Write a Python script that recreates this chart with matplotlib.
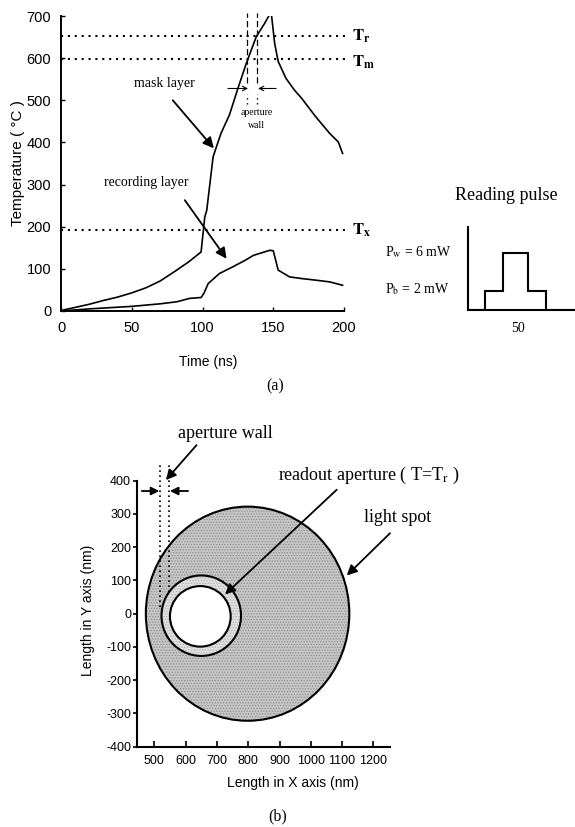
import matplotlib
matplotlib.use("Agg")
import matplotlib.pyplot as plt
from matplotlib.patches import Ellipse

plt.rcParams["font.family"] = ["Liberation Sans", "DejaVu Sans"]
plt.rcParams["mathtext.fontset"] = "stix"
plt.rcParams["axes.unicode_minus"] = False
plt.rcParams["hatch.linewidth"] = 0.6

SERIF = ["Liberation Serif", "DejaVu Serif"]

# ---- (a) temperature history of the two layers ----
time_mask = [0, 20, 30, 40, 50, 60, 70, 80, 90, 99, 101.6, 103, 107.5, 113, 119,
             125, 131, 138, 144, 148.5, 151, 153.5, 159, 165, 170, 180, 190, 196, 199]
temp_mask = [1, 16, 25, 33, 43, 55, 71, 93, 116, 140, 223, 239, 366, 421, 465,
             528, 588, 651, 683, 710, 635, 592, 552, 524, 505, 461, 421, 401, 374]

time_rec = [0, 20, 50, 70, 82, 91, 99, 101, 104, 112, 121.5, 130, 136, 147.5,
            150, 153.5, 161.5, 170, 180.5, 190, 199]
temp_rec = [0, 5, 11, 17, 22, 30, 32, 42, 65, 89, 105, 120, 132, 144,
            143, 97, 81, 77, 73, 69, 61]

threshold_temps = [653, 597, 192]
threshold_names = [r"$\mathbf{T_r}$", r"$\mathbf{T_m}$", r"$\mathbf{T_x}$"]
threshold_label_y = [653, 589, 192]

wall_times = [131.8, 138.8]

temp_ticks = [0, 100, 200, 300, 400, 500, 600, 700]
time_ticks = [0, 50, 100, 150, 200]

# reading pulse
power_bias = 2
power_write = 6
pulse_edges = [0, 17, 35, 60, 78, 107]
pulse_power = [0, power_bias, power_write, power_bias, 0]

# ---- (b) spot geometry (nm) ----
spot_center = (798, 0)
spot_size = (650, 644)
wall_center = (650, -6)
wall_size = (254, 242)
aperture_center = (647, -8)
aperture_size = (194, 182)
wall_edges_x = [518, 548]
wall_edges_bottom = [20, 65]

x_ticks_b = [500, 600, 700, 800, 900, 1000, 1100, 1200]
y_ticks_b = [-400, -300, -200, -100, 0, 100, 200, 300, 400]

W, H = 575, 827
fig = plt.figure(figsize=(W / 100, H / 100), dpi=100)


def rect(l, t, r, b):
    return [l / W, 1 - b / H, (r - l) / W, (b - t) / H]


# ================= (a) =================
ax1 = fig.add_axes(rect(61, 16, 344, 311))
ax1.plot(time_mask, temp_mask, color="black", lw=1.2)
ax1.plot(time_rec, temp_rec, color="black", lw=1.2)
ax1.set_xlim(0, 200)
ax1.set_ylim(0, 700)
for s in ["top", "right"]:
    ax1.spines[s].set_visible(False)
for s in ["left", "bottom"]:
    ax1.spines[s].set_linewidth(1.4)
ax1.set_xticks(time_ticks)
ax1.set_yticks(temp_ticks)
ax1.tick_params(direction="in", length=3, width=1, labelsize=10.5, pad=7)

for level, name, ly in zip(threshold_temps, threshold_names, threshold_label_y):
    ax1.plot([0, 203], [level, level], ls=(0, (1, 2.3)), color="black",
             lw=1.5, clip_on=False)
    ax1.text(205.5, ly, name, fontsize=12, va="center", ha="left")

for xw in wall_times:
    ax1.plot([xw, xw], [540, 707], ls=(0, (5, 2.5)), color="black", lw=0.9,
             clip_on=False)
    ax1.plot([xw, xw], [492, 515], ls=(0, (1, 2.5)), color="black", lw=1.0)

ax1.annotate("", xy=(wall_times[0] + 0.4, 528), xytext=(118, 528),
             arrowprops=dict(arrowstyle="->", color="black", lw=0.8,
                             mutation_scale=8, shrinkA=0, shrinkB=0))
ax1.annotate("", xy=(wall_times[1] + 0.5, 528), xytext=(152, 528),
             arrowprops=dict(arrowstyle="->", color="black", lw=0.8,
                             mutation_scale=8, shrinkA=0, shrinkB=0))
ax1.text(138, 470, "aperture", family=SERIF, fontsize=7, ha="center", va="center")
ax1.text(138, 440, "wall", family=SERIF, fontsize=7, ha="center", va="center")

ax1.text(73, 540, "mask layer", family=SERIF, fontsize=10, ha="center",
         va="center")
ax1.annotate("", xy=(108, 386), xytext=(79, 500),
             arrowprops=dict(arrowstyle="-|>", color="black", lw=1.3,
                             mutation_scale=16, shrinkA=0, shrinkB=0))
ax1.text(60.5, 306, "recording layer", family=SERIF, fontsize=10, ha="center",
         va="center")
ax1.annotate("", xy=(117, 124), xytext=(87.5, 263),
             arrowprops=dict(arrowstyle="-|>", color="black", lw=1.3,
                             mutation_scale=16, shrinkA=0, shrinkB=0))

ax1.set_ylabel("Temperature ( °C )", fontsize=11)
ax1.yaxis.set_label_coords(-0.127, 0.5)
ax1.text(0.519, -0.173, "Time (ns)", transform=ax1.transAxes, fontsize=10,
         ha="center", va="center")
fig.text(275 / W, 1 - 386 / H, "(a)", family=SERIF, fontsize=11.5,
         ha="center", va="center")

# reading pulse inset
ax2 = fig.add_axes(rect(468, 227, 575, 310))
ax2.stairs(pulse_power, pulse_edges, color="black", lw=1.5, baseline=None)
ax2.set_xlim(0, 107)
ax2.set_ylim(0, 8.7)
for s in ["top", "right"]:
    ax2.spines[s].set_visible(False)
for s in ["left", "bottom"]:
    ax2.spines[s].set_linewidth(1.5)
ax2.set_xticks([50])
ax2.set_yticks([])
ax2.tick_params(length=0, labelsize=10, pad=9)
for lab in ax2.get_xticklabels():
    lab.set_family(SERIF)
fig.text(506 / W, 1 - 195 / H, "Reading pulse", family=SERIF, fontsize=13,
         ha="center", va="center")
fig.text(385 / W, 1 - 251.7 / H, r"P$_\mathrm{w}$ = %d mW" % power_write,
         family=SERIF, fontsize=10, ha="left", va="center")
fig.text(385 / W, 1 - 289.3 / H, r"P$_\mathrm{b}$ = %d mW" % power_bias,
         family=SERIF, fontsize=10, ha="left", va="center")

# ================= (b) =================
ax3 = fig.add_axes(rect(137.3, 480.7, 390, 746.7))
ax3.set_xlim(445.7, 1253)
ax3.set_ylim(-400, 400)

ax3.add_patch(Ellipse(spot_center, *spot_size, facecolor="#c6c6c6",
                      edgecolor="#8e8e8e", hatch="......", lw=0))
ax3.add_patch(Ellipse(spot_center, *spot_size, fill=False, edgecolor="black",
                      lw=1.5))
ax3.add_patch(Ellipse(wall_center, *wall_size, facecolor="#e0e0e0",
                      edgecolor="#b0b0b0", hatch="......", lw=0))
ax3.add_patch(Ellipse(wall_center, *wall_size, fill=False, edgecolor="black",
                      lw=1.5))
ax3.add_patch(Ellipse(aperture_center, *aperture_size, facecolor="white",
                      edgecolor="black", lw=1.5))

for xw, yb in zip(wall_edges_x, wall_edges_bottom):
    ax3.plot([xw, xw], [yb, 452], ls=(0, (1, 2)), color="black", lw=1.2,
             clip_on=False)

arrow_kw = dict(arrowstyle="-|>", color="black", lw=1.3, mutation_scale=12,
                shrinkA=0, shrinkB=0)
ax3.annotate("", xy=(wall_edges_x[0] - 2, 369), xytext=(460, 369),
             arrowprops=arrow_kw, annotation_clip=False)
ax3.annotate("", xy=(wall_edges_x[1] + 2, 369), xytext=(608, 369),
             arrowprops=arrow_kw, annotation_clip=False)

ax3.text(727, 543, "aperture wall", family=SERIF, fontsize=13, ha="center",
         va="center", clip_on=False)
ax3.annotate("", xy=(537, 402), xytext=(635, 507),
             arrowprops=dict(arrow_kw, mutation_scale=15), annotation_clip=False)
ax3.text(896, 417, r"readout aperture ( T=T$_\mathrm{r}$ )", family=SERIF,
         fontsize=13, ha="left", va="center", clip_on=False)
ax3.annotate("", xy=(726, 58), xytext=(1083, 373),
             arrowprops=dict(arrow_kw, mutation_scale=15), annotation_clip=False)
ax3.text(1277, 288, "light spot", family=SERIF, fontsize=13, ha="center",
         va="center", clip_on=False)
ax3.annotate("", xy=(1115, 115), xytext=(1253, 242),
             arrowprops=dict(arrow_kw, mutation_scale=15), annotation_clip=False)

for s in ["top", "right"]:
    ax3.spines[s].set_visible(False)
for s in ["left", "bottom"]:
    ax3.spines[s].set_linewidth(1.5)
ax3.set_xticks(x_ticks_b)
ax3.set_yticks(y_ticks_b)
ax3.tick_params(axis="x", direction="in", length=4, width=1.2, labelsize=9,
                pad=6)
ax3.tick_params(axis="y", direction="out", length=3, width=1.2, labelsize=9,
                pad=1.5)
ax3.set_ylabel("Length in Y axis (nm)", fontsize=10)
ax3.yaxis.set_label_coords(-0.167, 0.514)
ax3.text(0.614, -0.136, "Length in X axis (nm)", transform=ax3.transAxes,
         fontsize=10, ha="center", va="center")
fig.text(278 / W, 1 - 816.7 / H, "(b)", family=SERIF, fontsize=11.5,
         ha="center", va="center")

fig.savefig("out.png", dpi=100)
